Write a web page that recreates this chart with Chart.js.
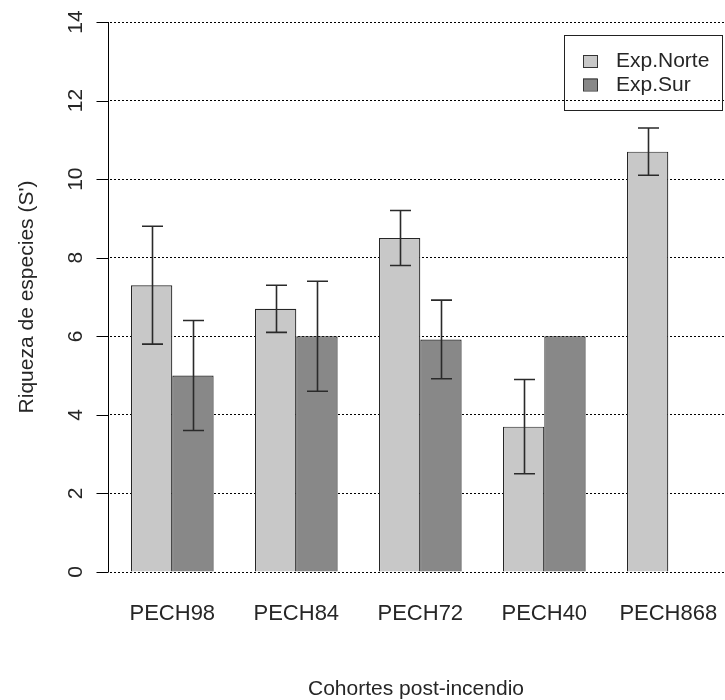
<!DOCTYPE html>
<html><head><meta charset="utf-8">
<script src="https://cdn.jsdelivr.net/npm/chart.js@4/dist/chart.umd.min.js"></script>
<style>html,body{margin:0;padding:0;overflow:hidden;background:#fff;width:725px;height:700px}canvas{display:block}</style>
</head><body>
<canvas id="c" width="745" height="700"></canvas>
<script>
const categories = ['PECH98', 'PECH84', 'PECH72', 'PECH40', 'PECH868'];
const seriesNames = ['Exp.Norte', 'Exp.Sur'];
const norteValues = [7.3, 6.7, 8.5, 3.7, 10.7];
const surValues = [5.0, 6.0, 5.92, 6.0, null];
const norteErrors = [1.5, 0.6, 0.7, 1.2, 0.6];
const surErrors = [1.4, 1.4, 1.0, null, null];
const yTickValues = [0, 2, 4, 6, 8, 10, 12, 14];
const xTitle = 'Cohortes post-incendio';
const yTitle = "Riqueza de especies (S')";

const FONT = '21px "Liberation Sans", Arial, sans-serif';
const XFONT = '22px "Liberation Sans", Arial, sans-serif';
const TEXT = '#262626';
const colors = ['#c8c8c8', '#888888'];
const errors = [norteErrors, surErrors];

const decor = {
  id: 'decor',
  afterDatasetsDraw(chart) {
    const ctx = chart.ctx;
    const y = chart.scales.y;
    ctx.save();
    ctx.strokeStyle = '#2a2a2a';
    ctx.lineWidth = 1.6;
    chart.data.datasets.forEach((ds, di) => {
      const meta = chart.getDatasetMeta(di);
      meta.data.forEach((bar, i) => {
        const v = ds.data[i], e = errors[di][i];
        if (v == null || e == null) return;
        const x = Math.round(bar.x) + 0.5;
        const yt = y.getPixelForValue(v + e), yb = y.getPixelForValue(v - e);
        ctx.beginPath();
        ctx.moveTo(x, yt); ctx.lineTo(x, yb);
        ctx.moveTo(x - 10.5, yt); ctx.lineTo(x + 10.5, yt);
        ctx.moveTo(x - 10.5, yb); ctx.lineTo(x + 10.5, yb);
        ctx.stroke();
      });
    });
    ctx.restore();
  },
  afterDraw(chart) {
    const ctx = chart.ctx;
    const y = chart.scales.y, x = chart.scales.x;
    const a = chart.chartArea;
    const axX = Math.round(a.left - 2.5) + 0.5;
    ctx.save();
    ctx.strokeStyle = '#000';
    ctx.lineWidth = 1;
    ctx.beginPath();
    ctx.moveTo(axX, y.getPixelForValue(yTickValues[yTickValues.length - 1]));
    ctx.lineTo(axX, y.getPixelForValue(yTickValues[0]));
    y.ticks.forEach(t => {
      const py = Math.round(y.getPixelForValue(t.value)) + 0.5;
      ctx.moveTo(axX - 12, py); ctx.lineTo(axX, py);
    });
    ctx.stroke();
    ctx.fillStyle = TEXT;
    ctx.font = FONT;
    ctx.textAlign = 'center';
    ctx.textBaseline = 'alphabetic';
    y.ticks.forEach(t => {
      const py = y.getPixelForValue(t.value);
      ctx.save();
      ctx.translate(82, py);
      ctx.rotate(-Math.PI / 2);
      ctx.fillText(String(t.value), 0, 0);
      ctx.restore();
    });
    ctx.save();
    ctx.translate(33, (a.top + a.bottom) / 2);
    ctx.rotate(-Math.PI / 2);
    ctx.fillText(yTitle, 0, 0);
    ctx.restore();
    ctx.font = XFONT;
    x.getLabels().forEach((lab, i) => {
      ctx.fillText(lab, x.getPixelForTick(i), 620);
    });
    ctx.font = FONT;
    ctx.fillText(xTitle, 416, 695);
    ctx.lineWidth = 1;
    ctx.strokeStyle = '#222';
    ctx.strokeRect(564.5, 35.5, 158, 75);
    ctx.textAlign = 'left';
    chart.data.datasets.forEach((ds, di) => {
      const ty = 55 + di * 23.5;
      ctx.fillStyle = ds.backgroundColor;
      ctx.fillRect(583, ty, 14, 12);
      ctx.strokeStyle = '#333';
      ctx.strokeRect(583.5, ty + 0.5, 14, 12);
      ctx.fillStyle = TEXT;
      ctx.fillText(ds.label, 616, ty + 12);
    });
    ctx.restore();
  }
};

new Chart(document.getElementById('c'), {
  type: 'bar',
  data: {
    labels: categories,
    datasets: [
      { label: seriesNames[0], data: norteValues, backgroundColor: colors[0], borderColor: '#262626', borderWidth: 1.2 },
      { label: seriesNames[1], data: surValues, backgroundColor: colors[1], borderColor: '#262626', borderWidth: 1.2 }
    ]
  },
  options: {
    responsive: false,
    animation: false,
    devicePixelRatio: 1,
    layout: { padding: { left: 110.3, right: 14.7, top: 22, bottom: 128 } },
    datasets: { bar: { categoryPercentage: 2 / 3, barPercentage: 1 } },
    plugins: { legend: { display: false }, tooltip: { enabled: false } },
    scales: {
      x: { display: false, offset: true },
      y: {
        min: 0, max: 14,
        afterBuildTicks(scale) { scale.ticks = yTickValues.map(v => ({ value: v })); },
        afterFit(scale) { scale.width = 0; },
        ticks: { display: false },
        border: { display: false, dash: [2, 2] },
        grid: { color: '#000', lineWidth: 1, drawTicks: false }
      }
    }
  },
  plugins: [decor]
});
</script>
</body></html>
